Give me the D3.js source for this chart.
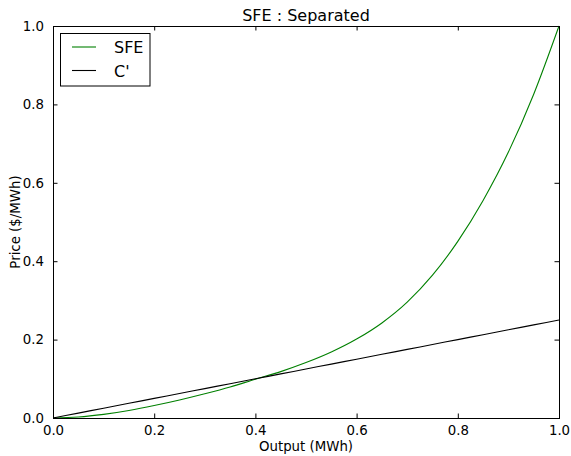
<!DOCTYPE html>
<html>
<head>
<meta charset="utf-8">
<script src="https://cdn.jsdelivr.net/npm/d3@7"></script>
<style>
  html, body { margin: 0; padding: 0; background: #fff; }
  svg { display: block; font-family: "DejaVu Sans", sans-serif; }
</style>
</head>
<body>
<svg id="chart" width="571" height="456"></svg>
<script>
// Output levels (MWh) at which the curves are sampled
const outputLevels = [0, 0.05, 0.1, 0.15, 0.2, 0.25, 0.3, 0.35, 0.4, 0.45, 0.5,
                      0.55, 0.6, 0.65, 0.7, 0.75, 0.8, 0.85, 0.9, 0.95, 1.0];
// Supply function equilibrium price ($/MWh)
const sfePrice = [0, 0.0025, 0.0093, 0.0193, 0.0318, 0.046, 0.0618, 0.079, 0.099, 0.1183, 0.1413,
                  0.1683, 0.2013, 0.2425, 0.2955, 0.3643, 0.4505, 0.555, 0.6783, 0.826, 1.0];
// Marginal cost C' ($/MWh)
const marginalCost = [0, 0.0125, 0.025, 0.0375, 0.05, 0.0625, 0.075, 0.0875, 0.1, 0.1125, 0.125,
                      0.1375, 0.15, 0.1625, 0.175, 0.1875, 0.2, 0.2125, 0.225, 0.2375, 0.25];
const xTicks = [0, 0.2, 0.4, 0.6, 0.8, 1.0];
const yTicks = [0, 0.2, 0.4, 0.6, 0.8, 1.0];
const seriesNames = ["SFE", "C'"];
const seriesColors = ["#008000", "#000000"];

const svg = d3.select("#chart");
const plotLeft = 53, plotRight = 559, plotTop = 26, plotBottom = 418;

const x = d3.scaleLinear().domain([0, 1]).range([plotLeft, plotRight]);
const y = d3.scaleLinear().domain([0, 1]).range([plotBottom, plotTop]);

svg.append("rect").attr("width", 571).attr("height", 456).attr("fill", "#fff");

// Curves
const series = [sfePrice, marginalCost];
const line = d3.line().x(d => x(d[0])).y(d => y(d[1])).curve(d3.curveMonotoneX);
series.forEach((vals, i) => {
  svg.append("path")
    .datum(outputLevels.map((v, j) => [v, vals[j]]))
    .attr("fill", "none")
    .attr("stroke", seriesColors[i])
    .attr("stroke-width", 1.1)
    .attr("d", line);
});

// Axes: ticks point inward on all four sides
const tickLen = 4.5;
const fmt = d3.format(".1f");
const axisBottom = d3.axisBottom(x).tickValues(xTicks).tickFormat(fmt).tickSizeInner(-tickLen).tickSizeOuter(0).tickPadding(8);
const axisTop = d3.axisTop(x).tickValues(xTicks).tickFormat("").tickSizeInner(-tickLen).tickSizeOuter(0);
const axisLeft = d3.axisLeft(y).tickValues(yTicks).tickFormat(fmt).tickSizeInner(-tickLen).tickSizeOuter(0).tickPadding(9);
const axisRight = d3.axisRight(y).tickValues(yTicks).tickFormat("").tickSizeInner(-tickLen).tickSizeOuter(0);

function styleAxis(g) {
  g.select(".domain").remove();
  g.selectAll(".tick line").attr("stroke", "#000").attr("stroke-width", 1);
  g.selectAll(".tick text").attr("fill", "#000").style("font-size", "13.33px")
    .style("font-family", "'DejaVu Sans', sans-serif");
}
svg.append("g").attr("transform", `translate(0,${plotBottom})`).call(axisBottom).call(styleAxis);
svg.append("g").attr("transform", `translate(0,${plotTop})`).call(axisTop).call(styleAxis);
svg.append("g").attr("transform", `translate(${plotLeft},0)`).call(axisLeft).call(styleAxis);
svg.append("g").attr("transform", `translate(${plotRight},0)`).call(axisRight).call(styleAxis);

// Frame
svg.append("rect")
  .attr("x", plotLeft).attr("y", plotTop)
  .attr("width", plotRight - plotLeft).attr("height", plotBottom - plotTop)
  .attr("fill", "none").attr("stroke", "#000").attr("stroke-width", 1)
  .attr("shape-rendering", "crispEdges");

// Title and axis labels
svg.append("text").attr("x", (plotLeft + plotRight) / 2).attr("y", 20.5)
  .attr("text-anchor", "middle").style("font-size", "16px").text("SFE : Separated");
svg.append("text").attr("x", (plotLeft + plotRight) / 2).attr("y", 451)
  .attr("text-anchor", "middle").style("font-size", "13.33px").text("Output (MWh)");
svg.append("text").attr("transform", `translate(19.5,${(plotTop + plotBottom) / 2}) rotate(-90)`)
  .attr("text-anchor", "middle").style("font-size", "13.33px").text("Price ($/MWh)");

// Legend
const legend = svg.append("g");
legend.append("rect").attr("x", 60.5).attr("y", 33.5).attr("width", 89.5).attr("height", 52.5)
  .attr("fill", "#fff").attr("stroke", "#000").attr("stroke-width", 1);
seriesNames.forEach((name, i) => {
  const cy = 47 + i * 23.5;
  legend.append("line").attr("x1", 72).attr("x2", 96).attr("y1", cy).attr("y2", cy)
    .attr("stroke", seriesColors[i]).attr("stroke-width", 1.1);
  legend.append("text").attr("x", 114).attr("y", cy + 6.3)
    .style("font-size", "16px").text(name);
});
</script>
</body>
</html>
